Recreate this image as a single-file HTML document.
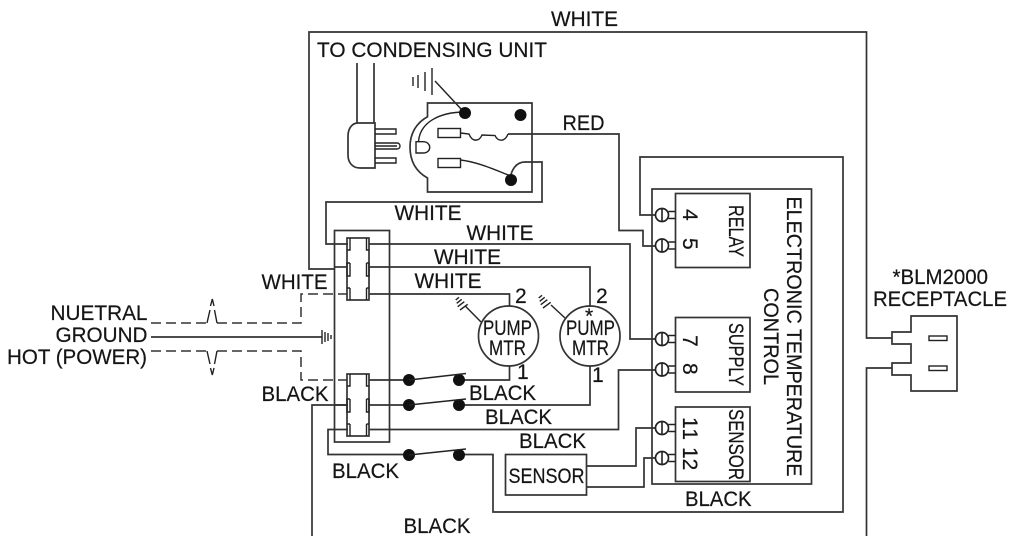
<!DOCTYPE html>
<html>
<head>
<meta charset="utf-8">
<style>
html,body{margin:0;padding:0;background:#fff;width:1015px;height:536px;overflow:hidden}
svg{display:block}
text{font-family:"Liberation Sans",sans-serif;font-size:21px;fill:#151515;stroke:#151515;stroke-width:.2}
.w{fill:none;stroke:#333;stroke-width:1.7}
.t{fill:none;stroke:#222;stroke-width:1.4}
.d{fill:none;stroke:#333;stroke-width:1.5;stroke-dasharray:10 5}
.k{fill:#111;stroke:none}
.c{fill:#fff;stroke:#222;stroke-width:1.7}
.v{stroke:#222;stroke-width:1.6}
</style>
</head>
<body>
<svg width="1015" height="536" viewBox="0 0 1015 536" xmlns="http://www.w3.org/2000/svg">
<!-- wires -->
<path class="w" d="M334,269H309V32H866.500V338H892"/>
<path class="w" d="M348,244H326V202H542V162H525C516,162 511,170 510,180"/>
<path class="w" d="M369,244H630V339H656"/>
<path class="w" d="M369,267H590V307"/>
<path class="w" d="M369,294H509.500V306"/>
<path class="w" d="M369,380H409M459,380H509.500V366"/>
<path class="w" d="M369,405H409M459,405H590V366"/>
<path class="w" d="M369,429.500H618.500V370H656"/>
<path class="w" d="M348,429.500H328V454.500H409M459,454.500H493V512H843V157H640V215H656"/>
<path class="w" d="M348,405H312V536"/>
<path class="w" d="M892,368H866.500V536"/>
<path class="w" d="M586,466H636V428H656"/>
<path class="w" d="M586,487H644V458H656"/>
<path class="w" d="M508,134H619V230.500H643V246H656"/>
<path class="w" d="M151,337H322"/>
<!-- dashed -->
<path class="d" d="M151,323H207"/>
<path class="d" d="M217,323H301V294H347"/>
<path class="d" d="M151,351H207"/>
<path class="d" d="M217,351H301V380H347"/>
<path class="t" d="M207,323L210,310M214.500,310L217,323M210.500,306L212.300,299L214,306"/>
<path class="t" d="M207,351L210,364M214.500,364L217,351M210.500,368L212.300,375L214,368"/>
<!-- ground symbols -->
<path class="t" d="M322,330V344M325,332V342M328,333V341M331,335V339"/>
<path class="t" d="M432,68V95M425,72V91M418,75V88M413,77V86"/>
<path class="t" d="M435,81L462,110"/>
<path class="t" d="M465,305.700L481,322"/>
<path class="t" d="M455.700,300L459,297.300M456.700,303.300L461.700,299.300M457.700,306.700L464.300,301.700M460,310L467.700,304.300"/>
<path class="t" d="M551,305L565,318"/>
<path class="t" d="M538.700,298L542,295.300M539.700,301.300L544.700,297.300M540.700,304.700L547.300,299.700M543,308L550.700,302.300"/>
<!-- main box -->
<rect class="w" x="334.500" y="230.500" width="55" height="211.500"/>
<!-- terminal blocks -->
<rect class="w" x="347" y="238" width="22" height="62" fill="#fff"/>
<rect class="w" x="347" y="374" width="22" height="62" fill="#fff"/>
<path class="t" d="M350,238V250H347M366.500,238V250H369M350,263V276H347V263H350M366.500,263V276H369V263H366.500M350,288V300M347,288H350M366.500,288V300M369,288H366.500"/>
<path class="t" d="M350,374V386H347M366.500,374V386H369M350,399V412H347V399H350M366.500,399V412H369V399H366.500M350,424V436M347,424H350M366.500,424V436M369,424H366.500"/>
<path class="w" d="M334,267H347"/>
<path class="w" d="M334,405H347"/>
<!-- switches -->
<g class="k">
<circle cx="409" cy="380" r="6"/><circle cx="459" cy="380" r="6"/>
<circle cx="409" cy="405" r="6"/><circle cx="459" cy="405" r="6"/>
<circle cx="409" cy="455" r="6"/><circle cx="459" cy="455" r="6"/>
</g>
<path class="t" d="M409,380L466,373.500M409,405L466,399M409,455L466,449"/>
<!-- motors -->
<circle class="w" cx="508.500" cy="336" r="30"/>
<circle class="w" cx="590" cy="336" r="30"/>
<!-- plug -->
<path class="w" d="M357,63V123M374,63V123"/>
<path class="w" d="M375,123H358C351,123 348,130 348,136V155C348,162 352,168 360,168H375Z"/>
<path class="t" d="M375,129H396V134H375M375,158H396V163H375M375,143H397C401,143 401,149 397,149H375M375,146H397"/>
<!-- outlet -->
<path class="w" d="M427.500,116.700V103H532V192H427.500V178C415,171 410,160 410,147C410,134 416,123 427.500,116.700Z"/>
<path class="t" d="M465,112C440,112 420,122 418.500,141.500"/>
<path class="t" d="M416,141.700H423C432,141.700 432,153 423,153H416Z"/>
<rect class="t" x="438" y="128.500" width="22.500" height="9"/>
<rect class="t" x="438" y="158.500" width="22.500" height="9"/>
<path class="t" d="M460.500,133L469,134C472,142 479,142 482,135L495,135.500C498,142 505,142 508,134"/>
<path class="t" d="M460.500,160C478,162 495,170 511,176"/>
<circle class="k" cx="465" cy="113" r="6"/>
<circle class="k" cx="520.500" cy="115" r="6"/>
<circle class="k" cx="511" cy="180" r="6"/>
<!-- control -->
<rect class="w" x="652" y="189" width="159.500" height="295"/>
<rect class="w" x="675.500" y="193.500" width="74.500" height="74"/>
<rect class="w" x="675.500" y="317.500" width="74.500" height="74.500"/>
<rect class="w" x="675.500" y="407" width="74.500" height="74.500"/>
<!-- terminals -->
<g transform="translate(0,215)"><circle class="c" cx="662" cy="0" r="6.500"/><path class="v" d="M662,-6.500V6.500"/><path class="t" d="M668.500,-3.500H675.500M668.500,3.500H675.500"/></g>
<g transform="translate(0,245.500)"><circle class="c" cx="662" cy="0" r="6.500"/><path class="v" d="M662,-6.500V6.500"/><path class="t" d="M668.500,-3.500H675.500M668.500,3.500H675.500"/></g>
<g transform="translate(0,339)"><circle class="c" cx="662" cy="0" r="6.500"/><path class="v" d="M662,-6.500V6.500"/><path class="t" d="M668.500,-3.500H675.500M668.500,3.500H675.500"/></g>
<g transform="translate(0,369.500)"><circle class="c" cx="662" cy="0" r="6.500"/><path class="v" d="M662,-6.500V6.500"/><path class="t" d="M668.500,-3.500H675.500M668.500,3.500H675.500"/></g>
<g transform="translate(0,428)"><circle class="c" cx="662" cy="0" r="6.500"/><path class="v" d="M662,-6.500V6.500"/><path class="t" d="M668.500,-3.500H675.500M668.500,3.500H675.500"/></g>
<g transform="translate(0,458)"><circle class="c" cx="662" cy="0" r="6.500"/><path class="v" d="M662,-6.500V6.500"/><path class="t" d="M668.500,-3.500H675.500M668.500,3.500H675.500"/></g>
<!-- sensor box -->
<rect class="w" x="505.500" y="454.500" width="81" height="40.500"/>
<!-- receptacle -->
<path class="w" d="M911,316H957V391H911V375H892V363H911V344H892V332H911Z"/>
<rect class="t" x="929" y="336" width="18" height="4.500"/>
<rect class="t" x="929" y="366" width="18" height="4.500"/>
<!-- labels -->
<text x="551" y="26" textLength="67" lengthAdjust="spacingAndGlyphs">WHITE</text>
<text x="317" y="57" textLength="230" lengthAdjust="spacingAndGlyphs">TO CONDENSING UNIT</text>
<text x="562.500" y="130" textLength="42" lengthAdjust="spacingAndGlyphs">RED</text>
<text x="394.500" y="220" textLength="67" lengthAdjust="spacingAndGlyphs">WHITE</text>
<text x="466.500" y="240" textLength="67" lengthAdjust="spacingAndGlyphs">WHITE</text>
<text x="434" y="264" textLength="67" lengthAdjust="spacingAndGlyphs">WHITE</text>
<text x="414.500" y="288" textLength="67" lengthAdjust="spacingAndGlyphs">WHITE</text>
<text x="261.500" y="289" textLength="66" lengthAdjust="spacingAndGlyphs">WHITE</text>
<text x="50.500" y="320" textLength="97" lengthAdjust="spacingAndGlyphs">NUETRAL</text>
<text x="55.500" y="342" textLength="92" lengthAdjust="spacingAndGlyphs">GROUND</text>
<text x="7" y="364" textLength="140" lengthAdjust="spacingAndGlyphs">HOT (POWER)</text>
<text x="261.500" y="401" textLength="67" lengthAdjust="spacingAndGlyphs">BLACK</text>
<text x="469" y="400" textLength="67" lengthAdjust="spacingAndGlyphs">BLACK</text>
<text x="485" y="424" textLength="67" lengthAdjust="spacingAndGlyphs">BLACK</text>
<text x="519" y="448" textLength="67" lengthAdjust="spacingAndGlyphs">BLACK</text>
<text x="332" y="478" textLength="67" lengthAdjust="spacingAndGlyphs">BLACK</text>
<text x="403.500" y="533" textLength="67" lengthAdjust="spacingAndGlyphs">BLACK</text>
<text x="685" y="506" textLength="66.500" lengthAdjust="spacingAndGlyphs">BLACK</text>
<text x="508.500" y="483" textLength="76" lengthAdjust="spacingAndGlyphs">SENSOR</text>
<text x="483" y="335" textLength="49" lengthAdjust="spacingAndGlyphs">PUMP</text>
<text x="489" y="355" textLength="37" lengthAdjust="spacingAndGlyphs">MTR</text>
<text x="566" y="335" textLength="49" lengthAdjust="spacingAndGlyphs">PUMP</text>
<text x="572" y="355" textLength="37" lengthAdjust="spacingAndGlyphs">MTR</text>
<text x="585" y="323">*</text>
<text x="515" y="303">2</text>
<text x="596" y="303">2</text>
<text x="517" y="379">1</text>
<text x="592" y="382">1</text>
<text x="892.500" y="284" textLength="95.500" lengthAdjust="spacingAndGlyphs">*BLM2000</text>
<text x="873" y="306" textLength="134" lengthAdjust="spacingAndGlyphs">RECEPTACLE</text>
<!-- rotated -->
<text transform="translate(787,196.500) rotate(90)" textLength="280" lengthAdjust="spacingAndGlyphs">ELECTRONIC TEMPERATURE</text>
<text transform="translate(764,288) rotate(90)" textLength="97" lengthAdjust="spacingAndGlyphs">CONTROL</text>
<text transform="translate(729,205) rotate(90)" textLength="52" lengthAdjust="spacingAndGlyphs">RELAY</text>
<text transform="translate(729,323) rotate(90)" textLength="63" lengthAdjust="spacingAndGlyphs">SUPPLY</text>
<text transform="translate(729,409) rotate(90)" textLength="71" lengthAdjust="spacingAndGlyphs">SENSOR</text>
<text transform="translate(683,209) rotate(90)">4</text>
<text transform="translate(683,238) rotate(90)">5</text>
<text transform="translate(683,335) rotate(90)">7</text>
<text transform="translate(683,363) rotate(90)">8</text>
<text transform="translate(683,417) rotate(90)" textLength="23" lengthAdjust="spacing">11</text>
<text transform="translate(683,447) rotate(90)">12</text>
</svg>
</body>
</html>
